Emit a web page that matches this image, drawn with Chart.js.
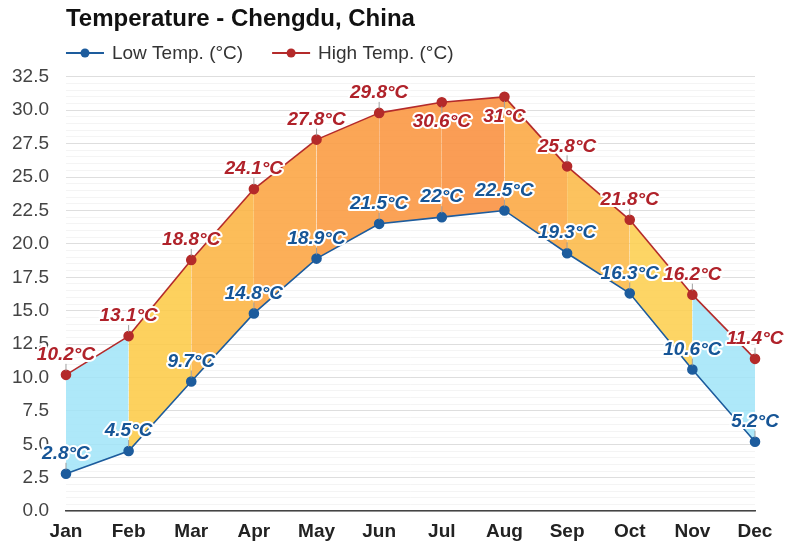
<!DOCTYPE html>
<html>
<head>
<meta charset="utf-8">
<script src="https://cdn.jsdelivr.net/npm/chart.js@4/dist/chart.umd.min.js"></script>
<style>
html,body{margin:0;padding:0;background:#fff;}
#wrap{width:787px;height:554px;position:relative;}
</style>
</head>
<body>
<div id="wrap"><canvas id="c" width="787" height="554"></canvas></div>
<script>
const months = ['Jan','Feb','Mar','Apr','May','Jun','Jul','Aug','Sep','Oct','Nov','Dec'];
const lowTemps = [2.8,4.5,9.7,14.8,18.9,21.5,22,22.5,19.3,16.3,10.6,5.2];
const highTemps = [10.2,13.1,18.8,24.1,27.8,29.8,30.6,31,25.8,21.8,16.2,11.4];
const segmentColors = ['rgba(160,228,248,0.85)','rgba(253,203,72,0.88)','rgba(252,180,66,0.88)','rgba(252,166,70,0.9)',
  'rgba(251,156,68,0.9)','rgba(251,152,68,0.9)','rgba(250,146,66,0.9)','rgba(252,170,70,0.9)',
  'rgba(252,186,72,0.88)','rgba(253,207,80,0.88)','rgba(160,228,248,0.85)'];
const highBelow = [false,false,false,false,false,false,true,true,false,false,false,false];

const LOW_C = '#1d5c9d', HIGH_C = '#b42a2a';
const LOW_T = '#165596', HIGH_T = '#b0222a';
const FONT = '"Liberation Sans", Arial, sans-serif';

const labelPlugin = {
  id: 'tempLabels',
  afterDatasetsDraw(chart){
    const ctx = chart.ctx;
    ctx.save();
    ctx.font = 'italic bold 19px ' + FONT;
    ctx.textAlign = 'center';
    ctx.textBaseline = 'middle';
    ctx.lineJoin = 'round';
    chart.data.datasets.forEach((ds, di) => {
      const meta = chart.getDatasetMeta(di);
      meta.data.forEach((pt, i) => {
        const below = di === 1 && highBelow[i];
        const x = pt.x, y = pt.y;
        ctx.strokeStyle = 'rgba(150,150,150,0.9)';
        ctx.lineWidth = 1;
        ctx.beginPath();
        if (below) { ctx.moveTo(x, y + 4); ctx.lineTo(x, y + 11); }
        else { ctx.moveTo(x, y - 4); ctx.lineTo(x, y - 11); }
        ctx.stroke();
        const ty = below ? y + 20 : y - 20;
        const txt = ds.data[i] + '°C';
        ctx.strokeStyle = '#fff';
        ctx.lineWidth = 4;
        ctx.strokeText(txt, x, ty);
        ctx.fillStyle = di === 0 ? LOW_T : HIGH_T;
        ctx.fillText(txt, x, ty);
      });
    });
    ctx.restore();
  }
};

const legendPlugin = {
  id: 'lineLegend',
  afterDraw(chart){
    const ctx = chart.ctx;
    ctx.save();
    ctx.font = '19px ' + FONT;
    ctx.textBaseline = 'middle';
    ctx.textAlign = 'left';
    let x = chart.chartArea.left;
    const y = 53;
    chart.data.datasets.forEach(ds => {
      const c = ds.borderColor;
      ctx.strokeStyle = c; ctx.lineWidth = 2;
      ctx.beginPath(); ctx.moveTo(x, y); ctx.lineTo(x + 38, y); ctx.stroke();
      ctx.fillStyle = c;
      ctx.beginPath(); ctx.arc(x + 19, y, 4.5, 0, Math.PI * 2); ctx.fill();
      ctx.fillStyle = '#333';
      ctx.fillText(ds.label, x + 46, y + 1);
      x += 46 + ctx.measureText(ds.label).width + 29;
    });
    ctx.restore();
  }
};

const isMajor = v => Math.abs(v / 2.5 - Math.round(v / 2.5)) < 1e-6;

new Chart(document.getElementById('c'), {
  type: 'line',
  data: {
    labels: months,
    datasets: [
      {
        label: 'Low Temp. (°C)',
        data: lowTemps,
        borderColor: LOW_C,
        backgroundColor: LOW_C,
        pointBackgroundColor: LOW_C,
        pointBorderColor: LOW_C,
        pointRadius: 4.5,
        borderWidth: 1.6,
        fill: false,
        order: 0
      },
      {
        label: 'High Temp. (°C)',
        data: highTemps,
        borderColor: HIGH_C,
        backgroundColor: HIGH_C,
        pointBackgroundColor: HIGH_C,
        pointBorderColor: HIGH_C,
        pointRadius: 4.5,
        borderWidth: 1.6,
        fill: 0,
        order: 1,
        segment: {
          backgroundColor: c => segmentColors[c.p0DataIndex]
        }
      }
    ]
  },
  options: {
    responsive: false,
    animation: false,
    layout: { padding: { left: -5, right: 32, top: 0, bottom: 2 } },
    plugins: {
      title: {
        display: true,
        text: 'Temperature - Chengdu, China',
        align: 'start',
        fullSize: false,
        color: '#111',
        font: { family: FONT, size: 24, weight: 'bold' },
        padding: { top: 5, bottom: 43 }
      },
      legend: { display: false },
      tooltip: { enabled: false }
    },
    scales: {
      x: {
        offset: false,
        grid: { display: false, drawTicks: false },
        border: { display: true, color: '#444', width: 1.5 },
        ticks: {
          color: '#222',
          padding: 9,
          font: { family: FONT, size: 19, weight: 'bold' }
        }
      },
      y: {
        min: 0,
        max: 32.5,
        border: { display: false },
        grid: {
          drawTicks: false,
          color: c => isMajor(c.tick.value) ? 'rgba(0,0,0,0.13)' : 'rgba(0,0,0,0.045)',
          lineWidth: 1
        },
        ticks: {
          stepSize: 0.5,
          autoSkip: false,
          padding: 17,
          color: '#444',
          font: { family: FONT, size: 19 },
          callback: v => isMajor(v) ? v.toFixed(1) : ''
        }
      }
    }
  },
  plugins: [labelPlugin, legendPlugin]
});
</script>
</body>
</html>
